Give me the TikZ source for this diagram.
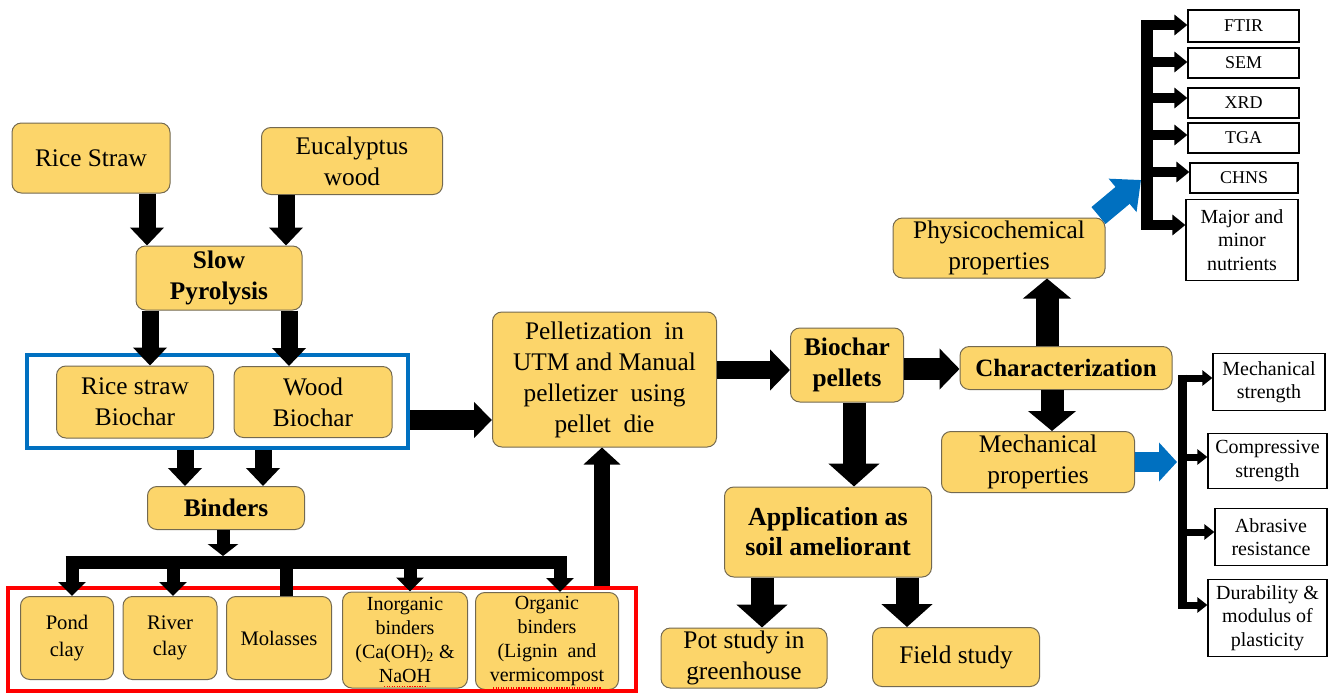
\documentclass[tikz,border=0pt]{standalone}
\usepackage{fontspec}
\setmainfont{LiberationSerif}[Extension=.ttf,UprightFont=*-Regular,BoldFont=*-Bold,ItalicFont=*-Italic,BoldItalicFont=*-BoldItalic]
\usetikzlibrary{arrows.meta,calc}
\definecolor{byel}{RGB}{252,213,106}
\definecolor{bedge}{RGB}{115,105,80}
\definecolor{gblue}{RGB}{0,112,192}
\definecolor{gred}{RGB}{255,0,0}
\newcommand\fsBig{\fontsize{19}{23.5}\selectfont}
\newcommand\fsMid{\fontsize{15.5}{20}\selectfont}
\newcommand\fsRt{\fontsize{15}{17.5}\selectfont}
\newcommand\fsSm{\fontsize{13.5}{16}\selectfont}
\begin{document}
\begin{tikzpicture}[x=0.75pt,y=-0.75pt,
  ybox/.style={draw=bedge, line width=0.75pt, fill=byel, rounded corners=7pt, align=center, inner sep=0pt},
  wbox/.style={draw=black, line width=0.9pt, fill=white, align=center, inner sep=0pt},
  arrA/.style={line width=12.75pt, -{Triangle[width=24.75pt,length=13.5pt]}},
  arrB/.style={line width=15pt, -{Triangle[width=26.25pt,length=13.5pt]}},
  arrC/.style={line width=9.75pt, -{Triangle[width=22.5pt,length=9pt]}},
  arrD/.style={line width=9.75pt, -{Triangle[width=20.25pt,length=10.5pt]}},
  arrE/.style={line width=12pt, -{Triangle[width=27pt,length=12.75pt]}},
  arrF/.style={line width=13.5pt, -{Triangle[width=30pt,length=15pt]}},
  arrG/.style={line width=17.25pt, -{Triangle[width=37.5pt,length=17.25pt]}},
  arrH/.style={line width=16.5pt, -{Triangle[width=30pt,length=15pt]}},
  arrI/.style={line width=17.25pt, -{Triangle[width=35.25pt,length=15pt]}},
  barr/.style={draw=gblue, line width=15pt, -{Triangle[width=28.5pt,length=13.5pt,fill=gblue]}},
  barr2/.style={draw=gblue, line width=16.5pt, -{Triangle[width=31.5pt,length=18pt,fill=gblue]}},
  pbr/.style={line width=7.5pt, -{Triangle[width=15pt,length=9.75pt]}},
  mbr/.style={line width=5.25pt, -{Triangle[width=11.25pt,length=7.5pt]}},
  busline/.style={line width=9.75pt},
  squig/.style={draw=gred, line width=0.9pt, densely dotted},
]
\useasboundingbox (0,0) rectangle (1329,693);

% ---------- left column ----------
\node[ybox, font=\fsBig, minimum width=118.5pt, minimum height=52.5pt] (rs) at (91,158) {Rice Straw};
\node[ybox, font=\fsBig, minimum width=135.75pt, minimum height=50.25pt] (eu) at (352,161) {Eucalyptus\\wood};
\node[ybox, font=\fsBig\bfseries, minimum width=124.5pt, minimum height=48pt] (sp) at (219,278) {Slow\\Pyrolysis};
\node[ybox, font=\fsBig, minimum width=117.75pt, minimum height=54pt] (rsb) at (135,402) {Rice straw\\Biochar};
\node[ybox, font=\fsBig, minimum width=118.5pt, minimum height=53.25pt] (wb) at (313,402) {Wood\\Biochar};
\node[ybox, font=\fsBig\bfseries, minimum width=117.75pt, minimum height=32.25pt] (bi) at (226,508) {Binders};

\node[ybox, font=\fsMid, minimum width=69.75pt, minimum height=62.25pt] (pc) at (67,638) {Pond\\clay};
\node[ybox, font=\fsMid, minimum width=70.5pt, minimum height=62.25pt] (rc) at (170,638) {River\\clay};
\node[ybox, font=\fsMid, minimum width=78.75pt, minimum height=62.25pt] (mo) at (279,638) {Molasses};
\node[ybox, font=\fontsize{15}{18}\selectfont, minimum width=93.75pt, minimum height=72pt] (ib) at (405,640) {Inorganic\\binders\\(Ca(OH)\textsubscript{2} \&\\NaOH};
\node[ybox, font=\fontsize{15}{18}\selectfont, minimum width=107.25pt, minimum height=72.75pt] (ob) at (547,641) {Organic\\binders\\(Lignin\ \ and\\vermicompost};
\draw[squig] ($(ib.south)+(-21,-2)$) -- ($(ib.south)+(21,-2)$);
\draw[squig] ($(ob.south)+(-54,-2)$) -- ($(ob.south)+(54,-2)$);

\node[draw=gblue, line width=3pt, minimum width=285.75pt, minimum height=69.75pt, inner sep=0pt] (grpB) at (217.5,401.5) {};
\node[draw=gred, line width=3pt, minimum width=471pt, minimum height=77.25pt, inner sep=0pt] (grpR) at (322,639.5) {};

% ---------- middle ----------
\node[ybox, font=\fontsize{19}{23.25}\selectfont, minimum width=168pt, minimum height=101.25pt] (pe) at (604.5,379.5) {Pelletization\ \ in\\UTM and Manual\\pelletizer\ \ using\\pellet\ \ die};
\node[ybox, font=\fsBig\bfseries, minimum width=84.75pt, minimum height=55.5pt] (bp) at (847,365) {Biochar\\pellets};
\node[ybox, font=\fontsize{19.5}{22.5}\selectfont\bfseries, minimum width=155.25pt, minimum height=67.5pt] (ap) at (828,532) {Application as\\soil ameliorant};
\node[ybox, font=\fsBig, minimum width=124.5pt, minimum height=45pt] (ps) at (744,658) {Pot study in\\greenhouse};
\node[ybox, font=\fsBig, minimum width=125.25pt, minimum height=44.25pt] (fs) at (956,657) {Field study};

% ---------- right ----------
\node[ybox, font=\fontsize{18.7}{22}\selectfont\bfseries, minimum width=159pt, minimum height=32.25pt] (ch) at (1066,368) {Characterization};
\node[ybox, font=\fsBig, minimum width=144.75pt, minimum height=45.75pt] (mp) at (1038,462) {Mechanical\\properties};
\node[ybox, font=\fsBig, minimum width=159pt, minimum height=45pt] (ph) at (999,248) {Physicochemical\\properties};

\node[wbox, font=\fsSm, minimum width=83.25pt, minimum height=24pt] (ft) at (1243.5,26) {FTIR};
\node[wbox, font=\fsSm, minimum width=83.25pt, minimum height=22.5pt] (se) at (1243.5,63) {SEM};
\node[wbox, font=\fsSm, minimum width=83.25pt, minimum height=22.5pt] (xr) at (1243.5,103) {XRD};
\node[wbox, font=\fsSm, minimum width=83.25pt, minimum height=22.5pt] (tg) at (1243.5,138) {TGA};
\node[wbox, font=\fsSm, minimum width=81pt, minimum height=22.5pt] (cn) at (1244,178) {CHNS};
\node[wbox, font=\fsRt, minimum width=84pt, minimum height=60.75pt] (mj) at (1242,240) {Major and\\minor\\nutrients};

\node[wbox, font=\fsRt, minimum width=84pt, minimum height=42.75pt] (ms) at (1269,382) {Mechanical\\strength};
\node[wbox, font=\fsRt, minimum width=89.25pt, minimum height=41.25pt] (cs) at (1267.5,461) {Compressive\\strength};
\node[wbox, font=\fsRt, minimum width=84pt, minimum height=42.75pt] (ab) at (1271,537) {Abrasive\\resistance};
\node[wbox, font=\fsRt, minimum width=89.25pt, minimum height=57.75pt] (du) at (1267.5,618) {Durability \&\\modulus of\\plasticity};

% ---------- helper coordinates ----------
\coordinate (c147) at (147,0);
\coordinate (c286) at (286,0);
\coordinate (c150) at (150,0);
\coordinate (c289) at (289,0);
\coordinate (c185) at (185,0);
\coordinate (c263) at (263,0);
\coordinate (y420) at (0,420);
\coordinate (bh) at (223,556);
\coordinate (busL) at (65.5,562);
\coordinate (busR) at (566.5,562);
\coordinate (d1) at (72,562);
\coordinate (d2) at (173,562);
\coordinate (d3) at (286,562);
\coordinate (d4) at (410,562);
\coordinate (d5) at (560,562);
\coordinate (c602) at (602,0);
\coordinate (y370) at (0,370);
\coordinate (c854) at (854,0);
\coordinate (c762) at (762,0);
\coordinate (c907) at (907,0);
\coordinate (y369) at (0,369);
\coordinate (c1052) at (1052,0);
\coordinate (c1047) at (1047,0);
\coordinate (pbT) at (1147,20);
\coordinate (pbB) at (1147,230);
\coordinate (pb1) at (1142,25);
\coordinate (pb2) at (1142,62);
\coordinate (pb3) at (1142,98);
\coordinate (pb4) at (1142,135);
\coordinate (pb5) at (1142,172);
\coordinate (pb6) at (1142,225);
\coordinate (phA) at (1141,180);
\coordinate (mbT) at (1182,374.5);
\coordinate (mbB) at (1182,608.5);
\coordinate (mb1) at (1179,378);
\coordinate (mb2) at (1179,457);
\coordinate (mb3) at (1179,532);
\coordinate (mb4) at (1179,605);
\coordinate (mbA) at (1177,462);

% ---------- connectors ----------
\draw[arrA] (rs.south -| c147) -- (sp.north -| c147);
\draw[arrA] (eu.south -| c286) -- (sp.north -| c286);
\draw[arrA] (sp.south -| c150) -- (rsb.north -| c150);
\draw[arrA] (sp.south -| c289) -- (wb.north -| c289);
\draw[arrA] (grpB.south -| c185) -- (bi.north -| c185);
\draw[arrA] (grpB.south -| c263) -- (bi.north -| c263);
\draw[arrB] (grpB.east |- y420) -- (pe.west |- y420);

\draw[arrC] (bi.south -| bh) -- (bh);
\draw[busline] (busL) -- (busR);
\draw[arrD] (d1) -- (pc.north -| d1);
\draw[arrD] (d2) -- (rc.north -| d2);
\draw[busline] (d3) -- (mo.north -| d3);
\draw[arrD] (d4) -- (ib.north -| d4);
\draw[arrD] (d5) -- (ob.north -| d5);

\draw[arrE] (grpR.north -| c602) -- (pe.south -| c602);
\draw[arrF] (pe.east |- y370) -- (bp.west |- y370);
\draw[arrG] (bp.south -| c854) -- (ap.north -| c854);
\draw[arrG] (ap.south -| c762) -- (ps.north -| c762);
\draw[arrG] (ap.south -| c907) -- (fs.north -| c907);
\draw[arrH] (bp.east |- y369) -- (ch.west |- y369);
\draw[arrI] (ch.south -| c1052) -- (mp.north -| c1052);
\draw[arrI] (ch.north -| c1047) -- (ph.south -| c1047);

% physicochemical branch
\draw[barr2] ($(ph.north east)+(-7,-2)$) -- (phA);
\draw[line width=9pt] (pbT) -- (pbB);
\draw[pbr] (pb1) -- (ft.west |- pb1);
\draw[pbr] (pb2) -- (se.west |- pb2);
\draw[pbr] (pb3) -- (xr.west |- pb3);
\draw[pbr] (pb4) -- (tg.west |- pb4);
\draw[pbr] (pb5) -- (cn.west |- pb5);
\draw[pbr] (pb6) -- (mj.west |- pb6);

% mechanical branch
\draw[barr] (mp.east) -- (mbA);
\draw[line width=6.75pt] (mbT) -- (mbB);
\draw[mbr] (mb1) -- (ms.west |- mb1);
\draw[mbr] (mb2) -- (cs.west |- mb2);
\draw[mbr] (mb3) -- (ab.west |- mb3);
\draw[mbr] (mb4) -- (du.west |- mb4);
\end{tikzpicture}
\end{document}
